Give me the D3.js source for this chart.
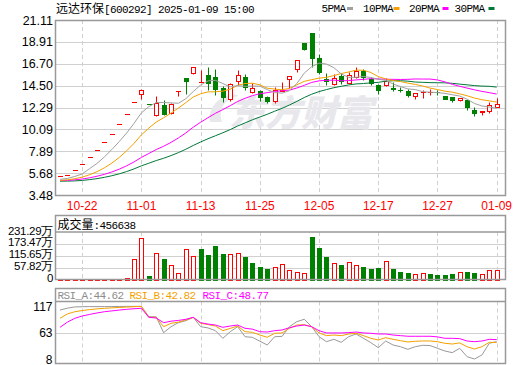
<!DOCTYPE html>
<html>
<head>
<meta charset="utf-8">
<script src="https://cdn.jsdelivr.net/npm/d3@7"></script>
<style>
  body { margin: 0; background: #fff; }
  svg { display: block; }
</style>
</head>
<body>
<svg id="chart" width="520" height="365"></svg>
<script>
// ---- data ----
const dates = ["10-17","10-18","10-21","10-22","10-23","10-24","10-25","10-28","10-29","10-30",
  "10-31","11-01","11-04","11-05","11-06","11-07","11-08","11-11","11-12","11-13",
  "11-14","11-15","11-18","11-19","11-20","11-21","11-22","11-25","11-26","11-27",
  "11-28","11-29","12-02","12-03","12-04","12-05","12-06","12-09","12-10","12-11",
  "12-12","12-13","12-16","12-17","12-18","12-19","12-20","12-23","12-24","12-25",
  "12-26","12-27","12-30","12-31","01-02","01-03","01-06","01-07","01-08","01-09"];
const tickDates = ["10-22","11-01","11-13","11-25","12-05","12-17","12-27","01-09"];

const open = [5.39,5.46,5.97,6.57,7.31,7.98,8.79,9.63,10.60,11.61,
  12.85,13.70,12.69,11.50,12.55,11.70,13.92,15.30,15.75,14.88,
  15.55,15.35,14.25,13.20,15.00,15.35,13.90,14.00,13.35,12.90,
  14.00,15.14,16.15,18.75,19.80,17.25,15.20,14.66,15.50,14.80,
  15.35,15.95,15.20,14.55,14.56,14.25,14.10,13.95,13.45,13.85,
  13.84,13.90,13.45,13.35,13.05,13.05,12.05,11.82,11.90,12.38];
const high = [5.39,5.46,5.97,6.57,7.31,7.98,8.79,9.63,10.60,11.61,
  12.85,14.15,12.69,13.50,13.10,12.75,13.92,15.30,16.40,16.10,
  16.40,16.20,14.50,14.80,16.10,15.70,14.75,14.10,13.50,14.40,
  14.90,15.50,17.04,18.75,19.85,17.70,15.75,15.70,15.80,15.90,
  16.35,16.20,15.35,14.70,15.30,14.90,14.40,14.15,13.75,14.10,
  14.12,14.05,13.50,13.40,13.30,13.10,12.30,11.98,12.85,13.30];
const low = [5.39,5.46,5.97,6.57,7.31,7.98,8.79,9.63,10.60,11.61,
  12.85,13.20,12.69,11.45,11.55,11.65,13.50,13.65,15.70,14.85,
  14.10,13.60,12.80,13.00,14.60,14.05,13.80,13.00,12.70,12.75,
  13.95,14.30,15.90,18.10,16.40,15.70,14.55,14.55,14.70,14.75,
  15.30,15.05,14.55,13.65,14.50,13.95,13.85,13.40,13.18,13.30,
  13.60,13.60,13.15,12.85,12.90,12.05,11.45,11.55,11.70,12.35];
const close = [5.39,5.46,5.97,6.57,7.31,7.98,8.79,9.63,10.60,11.61,
  12.85,14.10,12.69,12.72,11.60,12.65,13.92,15.00,16.35,14.90,
  14.75,14.15,13.40,14.65,15.55,14.40,14.25,13.40,12.90,14.05,
  14.08,15.50,17.04,18.15,17.25,15.90,15.00,15.25,14.95,15.55,
  15.97,15.40,14.75,14.05,14.95,14.20,14.05,13.60,13.72,13.90,
  13.87,13.85,13.20,13.05,13.25,12.30,11.70,11.95,12.50,12.65];

const ma5 = [5.05,5.15,5.35,5.60,6.14,6.66,7.32,8.06,8.86,9.72,
  10.70,11.76,12.38,12.80,12.80,12.76,12.72,13.18,13.90,14.56,
  14.98,15.03,14.71,14.37,14.50,14.43,14.45,14.45,14.10,13.80,
  13.74,13.99,14.71,15.76,16.40,16.77,16.67,16.31,15.67,15.33,
  15.34,15.42,15.32,15.14,15.02,14.67,14.40,14.17,14.10,13.89,
  13.84,13.80,13.72,13.58,13.45,13.13,12.70,12.45,12.34,12.22];
const ma10 = [4.95,5.01,5.12,5.28,5.52,5.83,6.22,6.69,7.26,7.93,
  8.68,9.54,10.22,10.83,11.26,11.73,12.24,12.78,13.35,13.68,
  13.87,13.88,13.94,14.14,14.53,14.71,14.74,14.58,14.24,14.15,
  14.08,14.22,14.58,14.93,15.10,15.25,15.33,15.51,15.72,15.87,
  16.06,16.05,15.82,15.41,15.18,15.01,14.91,14.75,14.62,14.46,
  14.25,14.10,13.94,13.84,13.67,13.48,13.25,13.08,12.96,12.84];
const ma20 = [4.93,4.95,5.01,5.09,5.21,5.37,5.56,5.80,6.08,6.42,
  6.81,7.27,7.66,8.06,8.39,8.78,9.23,9.73,10.31,10.81,
  11.27,11.71,12.08,12.48,12.90,13.22,13.49,13.68,13.79,13.92,
  13.98,14.05,14.26,14.53,14.82,14.98,15.03,15.05,14.98,15.01,
  15.07,15.13,15.20,15.17,15.14,15.13,15.12,15.13,15.17,15.16,
  15.16,15.07,14.88,14.63,14.43,14.25,14.08,13.92,13.79,13.65];
const ma30 = [4.87,4.88,4.90,4.95,5.03,5.13,5.26,5.42,5.61,5.84,
  6.11,6.42,6.68,6.95,7.18,7.45,7.75,8.09,8.47,8.82,
  9.15,9.45,9.75,10.07,10.43,10.74,11.06,11.34,11.61,11.92,
  12.21,12.55,12.91,13.30,13.63,13.90,14.10,14.29,14.43,14.57,
  14.67,14.71,14.78,14.83,14.94,14.99,14.99,14.95,14.86,14.83,
  14.80,14.79,14.78,14.73,14.65,14.58,14.50,14.45,14.43,14.35];

const priceTicks = [21.11,18.91,16.70,14.50,12.29,10.09,7.89,5.68,3.48];

// volume in 万
const volume = [4,4,3,3,3,3,3,4,4,5,
  99,203,16,128,100,69,30,148,115,151,
  120,165,125,125,128,110,82,61,51,61,
  74,45,35,30,209,155,110,79,71,84,
  71,61,51,58,90,51,36,31,25,30,
  26,21,21,26,35,36,31,25,45,45.6638];
const volTicks = [231.29,173.47,115.65,57.82,0];
const volTickLabels = ["231.29万","173.47万","115.65万","57.82万","0"];

const rsiA = [110,114,116.5,117,117.2,117.2,117.2,117.2,117.5,117.7,
  117.7,117.7,96.3,96,63.2,75.6,83.9,88,95,75.6,
  73,67.3,51.5,65.2,75.6,54.8,53.5,45.5,37.6,54.8,
  55.5,75.6,86,90.9,75.6,54.8,44.5,49.4,43.2,54.8,
  60.4,51.5,42.5,32,45.9,37.6,34.1,28.7,34.1,37,
  36.5,30.8,25.2,21.8,30.8,13.4,8.6,16.9,41.2,44.62];
const rsiB = [93,102,106.6,109,111,112.5,113.7,114.5,115.5,116.2,
  117,117.7,95,95,75.6,82.6,85,89.4,95,82.6,
  80,77,67.3,72,77,65.2,64,58.3,53.6,61.9,
  62.6,72.2,79,79.7,75.6,62.6,57,58.3,57,60.4,
  61.9,57,51.5,48,52.8,49.4,46.6,43.9,45.3,46,
  46,44.5,41.2,39.7,42,34.1,29.3,34.1,43.2,42.82];
const rsiC = [74.3,85,93,97.7,101,104,106.6,108.3,110,111.5,
  112.8,113.7,95,93.5,83.9,87,88.5,90.9,95,83.9,
  81,79,74.3,77,79,72.2,70.5,65.2,64.5,67.3,
  68.7,73.5,77,79,75.6,67.3,62.6,62.6,62.6,63.3,
  64.5,62.6,61.9,60.4,60.4,58.3,57,55.7,55.7,55.7,
  55.7,54.5,51.5,51.5,50.8,45.9,44.5,45.9,49.4,48.77];
const rsiTicks = [117,63,8];

// ---- layout ----
const svg = d3.select('#chart');
const left = 55.5, right = 505.5;
const RED = '#ff0000', GREEN = '#008000', GRID = '#d0d0d0', FRAME = '#999999';
const C_MA5 = '#a0a0a0', C_MA10 = '#f5a000', C_MA20 = '#ff00ff', C_MA30 = '#007838';
const sansFont = '"Liberation Sans", Arial, sans-serif';
const monoFont = '"Liberation Mono", monospace';
const cjkFont = '"Noto Sans CJK SC", sans-serif';

let x = d3.scalePoint().domain(dates).range([60, 496.7]);
let y = d3.scaleLinear().domain([3.48, 21.11]).range([195, 20]);
let yVol = d3.scaleLinear().domain([0, 231.29]).range([279.5, 232.5]);
let yRsi = d3.scaleLinear().domain([8, 117]).range([359.3, 306.7]);

const px = v => Math.round(v) + 0.5;

// candle colour: body by close vs open, ties by previous close
function up(i) {
  if (close[i] > open[i]) return true;
  if (close[i] < open[i]) return false;
  return i === 0 || close[i] >= close[i - 1];
}
// volume colour: close vs previous close
function volUp(i) {
  return i === 0 || close[i] >= close[i - 1];
}

// vertical dashed date grid in a band
function dateGrid(y0, y1) {
  svg.append('g').selectAll('line')
    .data(tickDates).enter().append('line')
    .attr('x1', d => px(x(d))).attr('x2', d => px(x(d)))
    .attr('y1', y0).attr('y2', y1)
    .attr('stroke', GRID).attr('stroke-dasharray', '4,3');
}

// ================= main price panel =================
svg.append('g').selectAll('line')
  .data(priceTicks.slice(1, -1)).enter().append('line')
  .attr('x1', left).attr('x2', right)
  .attr('y1', d => px(y(d))).attr('y2', d => px(y(d)))
  .attr('stroke', GRID);
dateGrid(20, 195);

// watermark
let wm = svg.append('g').attr('transform', 'translate(205,126) skewX(-14)');
wm.append('path')
  .attr('d', 'M 4 -4 C -4 -22 14 -36 26 -30 C 14 -28 8 -18 16 -4 Z')
  .attr('fill', '#e8e8ec');
wm.append('text')
  .attr('x', 24).attr('y', 0)
  .attr('font-family', cjkFont).attr('font-weight', 900)
  .attr('font-size', 36).attr('fill', '#e8e8ec')
  .text('东方财富');

// price axis labels
svg.append('g').selectAll('text')
  .data(priceTicks).enter().append('text')
  .attr('x', 53).attr('y', d => y(d))
  .attr('dy', '0.36em')
  .attr('text-anchor', 'end')
  .attr('font-family', sansFont).attr('font-size', 12.5)
  .attr('fill', '#000')
  .text(d => d.toFixed(2));

// candles
let candles = svg.append('g').selectAll('g')
  .data(dates).enter().append('g');

candles.append('line')
  .attr('x1', d => px(x(d))).attr('x2', d => px(x(d)))
  .attr('y1', (d, i) => px(y(high[i]))).attr('y2', (d, i) => px(y(low[i])))
  .attr('stroke', (d, i) => up(i) ? RED : GREEN);

candles.each(function(d, i) {
  let g = d3.select(this);
  let cx = Math.round(x(d));
  let yTop = px(y(Math.max(open[i], close[i])));
  let yBot = px(y(Math.min(open[i], close[i])));
  let col = up(i) ? RED : GREEN;
  if (yBot - yTop < 1) {
    g.append('line')
      .attr('x1', cx - 2).attr('x2', cx + 3)
      .attr('y1', yTop).attr('y2', yTop)
      .attr('stroke', col);
  } else {
    g.append('rect')
      .attr('x', cx - 1.5).attr('width', 4)
      .attr('y', yTop).attr('height', yBot - yTop)
      .attr('fill', up(i) ? '#fff' : GREEN)
      .attr('stroke', col);
  }
});

// moving averages
function maLine(values, color) {
  svg.append('path')
    .datum(values)
    .attr('d', d3.line().x((v, i) => x(dates[i])).y(v => y(v)))
    .attr('fill', 'none')
    .attr('stroke', color)
    .attr('stroke-width', 1);
}
maLine(ma30, C_MA30);
maLine(ma20, C_MA20);
maLine(ma10, C_MA10);
maLine(ma5, C_MA5);

svg.append('rect')
  .attr('x', left).attr('y', 20.5).attr('width', right - left).attr('height', 175)
  .attr('fill', 'none').attr('stroke', FRAME).attr('stroke-width', 1.5);

// title
let title = svg.append('text')
  .attr('x', 56).attr('y', 13)
  .attr('font-size', 11).attr('fill', '#000');
title.append('tspan').attr('font-family', cjkFont).attr('font-size', 12).text('远达环保');
title.append('tspan').attr('font-family', monoFont).attr('letter-spacing', -0.6)
  .text('[600292] 2025-01-09 15:00');

// legend
const legend = [
  { name: '5PMA', color: C_MA5, tx: 321.5, rx: 347 },
  { name: '10PMA', color: C_MA10, tx: 363, rx: 393.5 },
  { name: '20PMA', color: C_MA20, tx: 409, rx: 442.5 },
  { name: '30PMA', color: C_MA30, tx: 454.5, rx: 488.5 }
];
let lg = svg.append('g').selectAll('g').data(legend).enter().append('g');
lg.append('text')
  .attr('x', d => d.tx).attr('y', 12)
  .attr('font-family', monoFont).attr('font-size', 11)
  .attr('letter-spacing', -0.6).attr('fill', '#000')
  .text(d => d.name);
lg.append('rect')
  .attr('x', d => d.rx).attr('y', 7).attr('width', 6).attr('height', 3)
  .attr('fill', d => d.color);

// date labels
svg.append('g').selectAll('text')
  .data(tickDates).enter().append('text')
  .attr('x', d => x(d)).attr('y', 209.5)
  .attr('text-anchor', 'middle')
  .attr('font-family', sansFont).attr('font-size', 12)
  .attr('fill', RED)
  .text(d => d);

// ================= volume panel =================
svg.append('g').selectAll('line')
  .data(volTicks.slice(1, -1)).enter().append('line')
  .attr('x1', left).attr('x2', right)
  .attr('y1', d => px(yVol(d))).attr('y2', d => px(yVol(d)))
  .attr('stroke', GRID);
dateGrid(232, 279);

svg.append('g').selectAll('rect')
  .data(volume).enter().append('rect')
  .attr('x', (v, i) => Math.round(x(dates[i])) - 1.5)
  .attr('width', 4)
  .attr('y', v => px(yVol(v)))
  .attr('height', v => Math.max(0, px(yVol(0)) - px(yVol(v))))
  .attr('fill', (v, i) => volUp(i) ? '#fff' : GREEN)
  .attr('stroke', (v, i) => volUp(i) ? RED : GREEN);

svg.append('g').selectAll('text')
  .data(volTicks).enter().append('text')
  .attr('x', 53).attr('y', d => yVol(d) - 2)
  .attr('dy', '0.36em')
  .attr('text-anchor', 'end')
  .attr('font-family', sansFont).attr('font-size', 11.5)
  .attr('letter-spacing', -0.3)
  .attr('fill', '#000')
  .text((d, i) => volTickLabels[i]);

svg.append('rect')
  .attr('x', left).attr('y', 215.5).attr('width', right - left).attr('height', 64)
  .attr('fill', 'none').attr('stroke', FRAME).attr('stroke-width', 1.5);
svg.append('line')
  .attr('x1', left).attr('x2', right).attr('y1', 232).attr('y2', 232)
  .attr('stroke', FRAME).attr('stroke-width', 1.5);

let vt = svg.append('text').attr('x', 57.5).attr('y', 229).attr('fill', '#000');
vt.append('tspan').attr('font-family', cjkFont).attr('font-size', 12).text('成交量');
vt.append('tspan').attr('font-family', monoFont).attr('font-size', 11)
  .attr('letter-spacing', -0.6).text(':' + Math.round(volume[volume.length - 1] * 10000));

// ================= RSI panel =================
svg.append('line')
  .attr('x1', left).attr('x2', right)
  .attr('y1', px(yRsi(63))).attr('y2', px(yRsi(63)))
  .attr('stroke', GRID);
dateGrid(301.5, 363);

function rsiLine(values, color) {
  svg.append('path')
    .datum(values)
    .attr('d', d3.line().x((v, i) => x(dates[i])).y(v => yRsi(v)))
    .attr('fill', 'none')
    .attr('stroke', color)
    .attr('stroke-width', 1);
}
rsiLine(rsiA, '#999999');
rsiLine(rsiB, C_MA10);
rsiLine(rsiC, C_MA20);

svg.append('g').selectAll('text')
  .data(rsiTicks).enter().append('text')
  .attr('x', 52.5).attr('y', d => yRsi(d))
  .attr('dy', '0.35em')
  .attr('text-anchor', 'end')
  .attr('font-family', sansFont).attr('font-size', 12)
  .attr('fill', '#000')
  .text(d => d);

svg.append('rect')
  .attr('x', left).attr('y', 288.5).attr('width', right - left).attr('height', 75)
  .attr('fill', 'none').attr('stroke', FRAME).attr('stroke-width', 1.5);
svg.append('line')
  .attr('x1', left).attr('x2', right).attr('y1', 301.5).attr('y2', 301.5)
  .attr('stroke', FRAME).attr('stroke-width', 1.5);

const rsiHead = [
  { label: 'RSI_A:', v: rsiA, color: '#8c8c8c', tx: 57.5 },
  { label: 'RSI_B:', v: rsiB, color: C_MA10, tx: 129.5 },
  { label: 'RSI_C:', v: rsiC, color: C_MA20, tx: 202.5 }
];
svg.append('g').selectAll('text')
  .data(rsiHead).enter().append('text')
  .attr('x', d => d.tx).attr('y', 299)
  .attr('font-family', monoFont).attr('font-size', 11)
  .attr('letter-spacing', -0.6)
  .attr('fill', d => d.color)
  .text(d => d.label + d.v[d.v.length - 1].toFixed(2));
</script>
</body>
</html>
